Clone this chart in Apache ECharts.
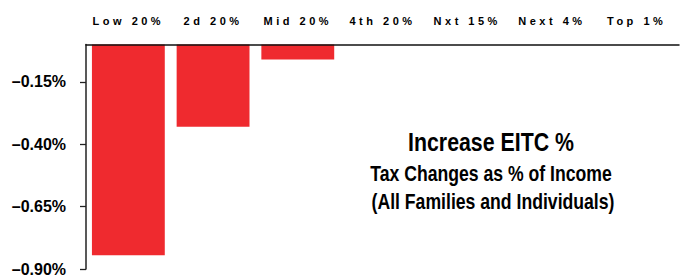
<!DOCTYPE html>
<html>
<head>
<meta charset="utf-8">
<script src="https://cdn.jsdelivr.net/npm/echarts@6/dist/echarts.min.js"></script>
<style>
    html, body { margin: 0; padding: 0; background: #fff; }
    #chart { width: 684px; height: 277px; }
</style>
</head>
<body>
<div id="chart"></div>
<script>
    // income groups and tax change as % of income
    var categories = ['Low 20%', '2d 20%', 'Mid 20%', '4th 20%', 'Nxt 15%', 'Next 4%', 'Top 1%'];
    var changes = [-0.845, -0.33, -0.06, 0, 0, 0, 0];
    var yTicks = [-0.90, -0.65, -0.40, -0.15];
    var titleLines = ['Increase EITC %', 'Tax Changes as % of Income', '(All Families and Individuals)'];

    var sans = '"Liberation Sans", Arial, sans-serif';
    var chart = echarts.init(document.getElementById('chart'), null, { renderer: 'svg' });

    // no narrow font installed, so squeeze the title text instead
    function titleText(txt, x, y, size) {
        return {
            type: 'text', x: x, y: y, scaleX: 0.82,
            style: { text: txt, textAlign: 'center', textVerticalAlign: 'middle', font: 'bold ' + size + 'px ' + sans, fill: '#000' }
        };
    }

    chart.setOption({
        animation: false,
        grid: { left: 86, right: 5, top: 44.5, bottom: 8 },
        xAxis: {
            type: 'category',
            position: 'top',
            data: categories,
            z: 5,
            axisLine: { lineStyle: { color: '#111', width: 1.5 } },
            axisTick: { inside: true, length: 5, lineStyle: { color: '#111', width: 1.3 } },
            axisLabel: {
                margin: 18,
                color: '#000',
                fontWeight: 'bold',
                fontSize: 11,
                fontFamily: sans
            }
        },
        yAxis: {
            type: 'value',
            min: -0.9,
            max: 0,
            z: 5,
            splitLine: { show: false },
            axisLine: { show: true, lineStyle: { color: '#222', width: 1.5 } },
            axisTick: { show: true, length: 6, customValues: yTicks, lineStyle: { color: '#222', width: 1.3 } },
            axisLabel: {
                customValues: yTicks,
                margin: 20,
                color: '#000',
                fontWeight: 'bold',
                fontSize: 16,
                fontFamily: sans,
                formatter: function (v) {
                    return '\u2013' + Math.abs(v).toFixed(2) + '%';
                }
            }
        },
        graphic: [
            titleText(titleLines[0], 491, 142, 26),
            titleText(titleLines[1], 491, 173, 21.5),
            titleText(titleLines[2], 493, 201.5, 21.5)
        ],
        series: [{
            type: 'bar',
            data: changes,
            barWidth: '86%',
            itemStyle: { color: '#EF2A2F' }
        }]
    });

    // spread out the category letters like the original
    function spaceLabels() {
        var texts = document.querySelectorAll('#chart svg text');
        texts.forEach(function (t) {
            if (categories.indexOf(t.textContent) >= 0) {
                t.setAttribute('letter-spacing', '3.5');
            }
        });
    }
    chart.on('finished', spaceLabels);
    spaceLabels();
</script>
</body>
</html>
